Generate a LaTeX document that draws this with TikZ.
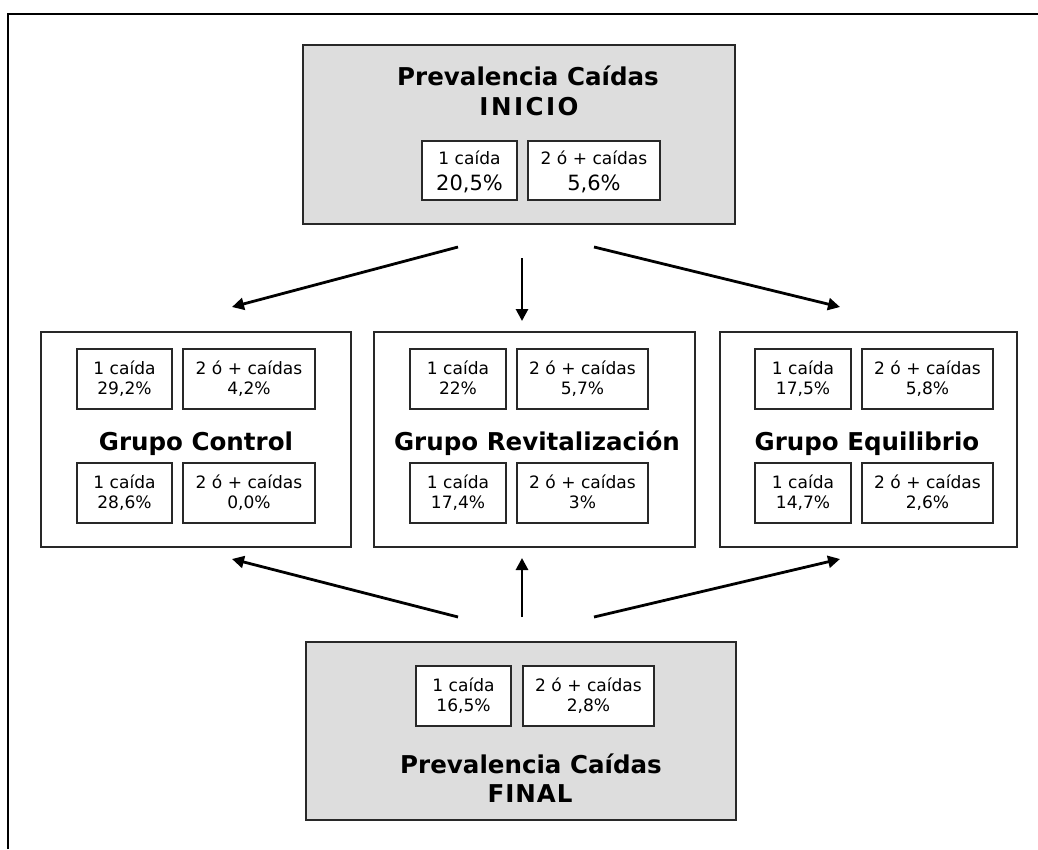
\documentclass[tikz,border=0pt]{standalone}
\usepackage{fontspec}
\setmainfont{DejaVu Sans}
\usetikzlibrary{arrows.meta,fit}
\definecolor{panelgrey}{RGB}{221,221,221}
\definecolor{edge}{RGB}{40,40,40}

\begin{document}
\begin{tikzpicture}[x=0.75pt,y=-0.75pt,
  panel/.style={draw=edge, line width=1.1pt, fill=panelgrey, inner sep=0pt},
  groupbox/.style={draw=edge, line width=1.1pt, fill=white, inner sep=0pt},
  cellbox/.style={draw=edge, line width=1.1pt, fill=white, inner sep=0pt},
  celltext/.style={inner sep=0pt, anchor=base, font=\fontsize{12.8}{15}\selectfont},
  bigtext/.style={inner sep=0pt, anchor=base, font=\fontsize{15.75}{19}\selectfont},
  heading/.style={inner sep=0pt, anchor=base, font=\bfseries\fontsize{18.4}{22.5}\selectfont},
  link/.style={line width=2.1pt, -{Triangle[length=9pt,width=9pt]}}]

\useasboundingbox (0,0) rectangle (1038,849);

% page frame (left and top rules)
\draw[line width=2.2pt] (8,849) -- (8,14) -- (1038,14);

% ---------- start prevalence ----------
\node[panel, fit={(303,45) (735,224)}] (inicio) {};
\node[heading] (inicioT1) at (528,85) {Prevalencia Caídas};
\node[heading] (inicioT2) at (529,115) {\addfontfeature{LetterSpace=10}INICIO};

\node[cellbox, fit={(422,141) (517,200)}] (i1) {};
\node[celltext, yshift=-18pt] (i1a) at (i1.north) {1 caída};
\node[bigtext, yshift=-37.5pt] (i1b) at (i1.north) {20,5\%};
\node[cellbox, fit={(528,141) (660,200)}] (i2) {};
\node[celltext, yshift=-18pt] (i2a) at (i2.north) {2 ó + caídas};
\node[bigtext, yshift=-37.5pt] (i2b) at (i2.north) {5,6\%};

% ---------- groups ----------
\node[groupbox, fit={(41,332) (351,547)}] (gc) {};
\node[groupbox, fit={(374,332) (695,547)}] (gr) {};
\node[groupbox, fit={(720,332) (1017,547)}] (ge) {};

\node[heading] (gcT) at (196,450) {Grupo Control};
\node[heading] (grT) at (537,450) {Grupo Revitalización};
\node[heading] (geT) at (867,450) {Grupo Equilibrio};

% ---------- final prevalence ----------
\node[panel, fit={(306,642) (736,820)}] (final) {};
\node[heading] (finalT1) at (531,773) {Prevalencia Caídas};
\node[heading] (finalT2) at (530,802) {\addfontfeature{LetterSpace=4}FINAL};

% ---------- small count cells ----------
\foreach \name/\xa/\xb/\ya/\yb/\la/\lb in {
    gc1/77/172/349/409/{1 caída}/{29,2\%},
    gc2/183/315/349/409/{2 ó + caídas}/{4,2\%},
    gc3/77/172/463/523/{1 caída}/{28,6\%},
    gc4/183/315/463/523/{2 ó + caídas}/{0,0\%},
    gr1/410/506/349/409/{1 caída}/{22\%},
    gr2/517/648/349/409/{2 ó + caídas}/{5,7\%},
    gr3/410/506/463/523/{1 caída}/{17,4\%},
    gr4/517/648/463/523/{2 ó + caídas}/{3\%},
    ge1/755/851/349/409/{1 caída}/{17,5\%},
    ge2/862/993/349/409/{2 ó + caídas}/{5,8\%},
    ge3/755/851/463/523/{1 caída}/{14,7\%},
    ge4/862/993/463/523/{2 ó + caídas}/{2,6\%},
    f1/416/511/666/726/{1 caída}/{16,5\%},
    f2/523/654/666/726/{2 ó + caídas}/{2,8\%}}{
  \node[cellbox, fit={(\xa,\ya) (\xb,\yb)}] (\name) {};
  \node[celltext, yshift=-19.8pt] (\name a) at (\name.north) {\la};
  \node[celltext, yshift=-34.8pt] (\name b) at (\name.north) {\lb};
}

% ---------- arrows ----------
\coordinate (a1s) at (458,247);  \coordinate (a1e) at (232,307);
\coordinate (a2s) at (522,258);  \coordinate (a2e) at (522,321);
\coordinate (a3s) at (594,247);  \coordinate (a3e) at (840,307);
\coordinate (b1s) at (458,617);  \coordinate (b1e) at (232,559);
\coordinate (b2s) at (522,617);  \coordinate (b2e) at (522,558);
\coordinate (b3s) at (594,617);  \coordinate (b3e) at (840,559);

\draw[link] (a1s) -- (a1e);
\draw[link] (a2s) -- (a2e);
\draw[link] (a3s) -- (a3e);
\draw[link] (b1s) -- (b1e);
\draw[link] (b2s) -- (b2e);
\draw[link] (b3s) -- (b3e);
\end{tikzpicture}
\end{document}
